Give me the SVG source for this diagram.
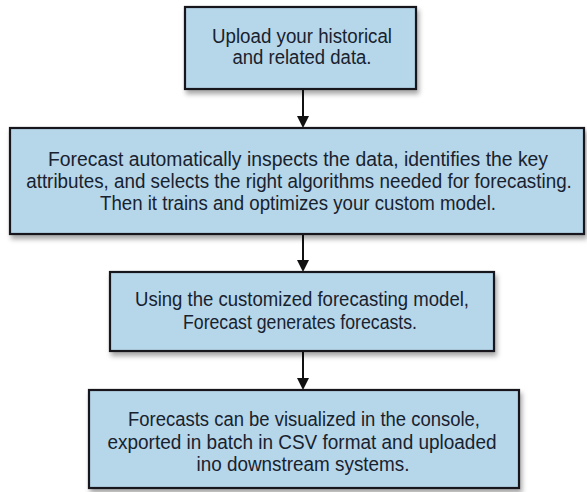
<svg xmlns="http://www.w3.org/2000/svg" width="587" height="492" viewBox="0 0 587 492">
<style>
.box{fill:#b6d6ea;stroke:#15181c;stroke-width:2.2}
.t{font-family:"Liberation Sans",Arial,sans-serif;font-size:19.5px;fill:#18222e;text-anchor:middle}
.c{stroke:#111;stroke-width:2;fill:none}
.h{fill:#111}
</style>
<defs>
<filter id="sh" x="-10%" y="-20%" width="120%" height="150%">
<feDropShadow dx="2" dy="4" stdDeviation="2.5" flood-color="#000" flood-opacity="0.35"/>
</filter>
</defs>
<rect width="587" height="492" fill="#ffffff"/>
<g id="connectors">
<line class="c" x1="303" y1="89" x2="303" y2="117"/>
<polygon class="h" points="297,116 309,116 303,128"/>
<line class="c" x1="303" y1="234" x2="303" y2="261"/>
<polygon class="h" points="297,260 309,260 303,272"/>
<line class="c" x1="303" y1="351" x2="303" y2="379"/>
<polygon class="h" points="297,378 309,378 303,390"/>
</g>
<g id="node1">
<rect class="box" x="185" y="7" width="231" height="82" filter="url(#sh)"/>
<text class="t" x="302" y="43" textLength="180" lengthAdjust="spacingAndGlyphs">Upload your historical</text>
<text class="t" x="302" y="64" textLength="139" lengthAdjust="spacingAndGlyphs">and related data.</text>
</g>
<g id="node2">
<rect class="box" x="10" y="128" width="574" height="106" filter="url(#sh)"/>
<text class="t" x="298" y="166" textLength="500" lengthAdjust="spacingAndGlyphs">Forecast automatically inspects the data, identifies the key</text>
<text class="t" transform="translate(299,188) scale(0.88,1)" x="0" y="0" textLength="620" lengthAdjust="spacingAndGlyphs">attributes, and selects the right algorithms needed for forecasting.</text>
<text class="t" x="298" y="210" textLength="396" lengthAdjust="spacingAndGlyphs">Then it trains and optimizes your custom model.</text>
</g>
<g id="node3">
<rect class="box" x="110" y="272" width="384" height="79" filter="url(#sh)"/>
<text class="t" x="302" y="306" textLength="334" lengthAdjust="spacingAndGlyphs">Using the customized forecasting model,</text>
<text class="t" x="300" y="329" textLength="234" lengthAdjust="spacingAndGlyphs">Forecast generates forecasts.</text>
</g>
<g id="node4">
<rect class="box" x="89" y="390" width="430" height="98" filter="url(#sh)"/>
<text class="t" x="304" y="426" textLength="352" lengthAdjust="spacingAndGlyphs">Forecasts can be visualized in the console,</text>
<text class="t" x="302" y="449" textLength="389" lengthAdjust="spacingAndGlyphs">exported in batch in CSV format and uploaded</text>
<text class="t" x="303" y="471" textLength="213" lengthAdjust="spacingAndGlyphs">ino downstream systems.</text>
</g>
</svg>
